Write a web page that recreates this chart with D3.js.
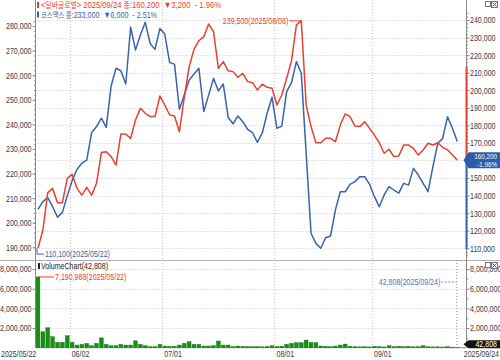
<!DOCTYPE html>
<html><head><meta charset="utf-8">
<script src="https://cdn.jsdelivr.net/npm/d3@7"></script>
<style>body{margin:0;background:#fff}svg{display:block;font-family:"Liberation Sans Narrow","Liberation Sans","Noto Sans CJK KR",sans-serif}text{white-space:pre}</style>
</head><body><svg id="c" width="500" height="360"></svg>
<script>
const dates = ["2025/05/22","2025/05/23","2025/05/26","2025/05/27","2025/05/28","2025/05/29","2025/05/30",
"2025/06/02","2025/06/04","2025/06/05","2025/06/09","2025/06/10","2025/06/11","2025/06/12","2025/06/13","2025/06/16","2025/06/17","2025/06/18","2025/06/19","2025/06/20","2025/06/23","2025/06/24","2025/06/25","2025/06/26","2025/06/27","2025/06/30",
"2025/07/01","2025/07/02","2025/07/03","2025/07/04","2025/07/07","2025/07/08","2025/07/09","2025/07/10","2025/07/11","2025/07/14","2025/07/15","2025/07/16","2025/07/17","2025/07/18","2025/07/21","2025/07/22","2025/07/23","2025/07/24","2025/07/25","2025/07/28","2025/07/29","2025/07/30","2025/07/31",
"2025/08/01","2025/08/04","2025/08/05","2025/08/06","2025/08/07","2025/08/08","2025/08/11","2025/08/12","2025/08/13","2025/08/14","2025/08/18","2025/08/19","2025/08/20","2025/08/21","2025/08/22","2025/08/25","2025/08/26","2025/08/27","2025/08/28","2025/08/29",
"2025/09/01","2025/09/02","2025/09/03","2025/09/04","2025/09/05","2025/09/08","2025/09/09","2025/09/10","2025/09/11","2025/09/12","2025/09/15","2025/09/16","2025/09/17","2025/09/18","2025/09/19","2025/09/22","2025/09/23","2025/09/24"];

// 달바글로벌 (right axis)
const dalbaClose = [110100,120400,141700,144100,136000,136000,149800,152100,144100,140300,144700,140300,147000,164500,165000,162200,157400,175100,175100,172600,183100,189700,186900,185000,185000,196700,
191600,185900,185300,176400,196000,213400,223300,228200,230500,237700,233400,212500,216300,211100,210600,207400,209600,204900,204300,200100,203500,201700,201100,
191600,197300,206800,216800,237200,239500,191600,179300,170100,170100,172600,172600,170700,180200,186500,185000,179600,179300,182100,178300,
174500,170100,164100,166400,162200,162600,168800,168800,166900,163100,166000,169800,168800,170100,167500,166000,163100,160200];

// 코스맥스 (left axis)
const cosmaxClose = [205400,208600,210200,206500,202200,204200,210900,217100,221700,224200,225500,236600,239100,242500,238800,255600,262800,261800,256400,279500,270200,276300,281500,272900,270500,279000,
276700,265100,264500,246100,251900,258000,260500,262800,245200,251900,258700,253600,256400,242900,240200,243400,241100,238000,236600,232700,236500,244500,251000,
238400,239300,253300,257000,265500,260800,228200,195700,191600,189600,193900,194600,205200,212600,212600,215600,216700,218700,218700,215700,
210600,206500,211300,214700,213300,212000,216000,215300,222100,219400,216000,212600,222800,232300,234300,243100,238400,233000];

const volume = [7190988,1620000,2030000,1110000,540000,550000,1220000,540000,270000,340000,440000,200000,440000,1000000,340000,200000,200000,340000,270000,270000,700000,340000,200000,100000,100000,340000,
170000,140000,140000,270000,440000,610000,340000,340000,170000,170000,200000,680000,270000,270000,100000,170000,140000,120000,100000,110000,90000,130000,200000,
120000,150000,340000,440000,500000,500000,780000,540000,500000,170000,140000,100000,170000,270000,370000,140000,100000,90000,100000,80000,
140000,100000,80000,200000,100000,150000,100000,140000,90000,100000,200000,100000,80000,90000,70000,100000,60000,42808];

const leftTicks = d3.range(190000, 280001, 10000);
const rightTicks = d3.range(110000, 240001, 10000);
const volTicks = [2000000, 4000000, 6000000, 8000000];
const monthStarts = ["2025/06/02","2025/07/01","2025/08/01","2025/09/01"];
const monthLabels = ["06/02","07/01","08/01","09/01"];
const legend1 = [["<", 0], ["달바글로벌", 1], ["> 2025/09/24 ", 0], ["종", 1], [":160,200  ▼3,200  - 1.96%", 0]];
const legend2 = [["코스맥스 ", 1], ["종", 1], [":233,000  ▼6,000  - 2.51%", 0]];

const RED = "#e8402f", BLUE = "#3b62ad", GRID = "#c8c8c8", AX = "#8a8a8a", TXT = "#3a3a3a";
const svg = d3.select("#c");
svg.append("rect").attr("width",500).attr("height",360).attr("fill","#fff");

const probe = svg.append("text").style("font-size","9px").text("280,000");
const K = Math.min(1.1, 25.5 / probe.node().getComputedTextLength());
probe.remove();
function squeeze(sel){
  sel.each(function(){
    const w = this.getComputedTextLength();
    if (w > 0) d3.select(this).attr("textLength", w*K).attr("lengthAdjust","spacingAndGlyphs");
  });
}

const x = d3.scalePoint().domain(dates).range([38, 457.3]);
const step = x.step();
const yL = d3.scaleLinear().domain([190000, 280000]).range([247.3, 26]);
const yR = d3.scaleLinear().domain([110000, 240000]).range([248.3, 20]);
const yV = d3.scaleLinear().domain([0, 8000000]).range([347.7, 269]);
const L = 35.5, R = 466.5, PT = 0, PB = 260, VT = 260, VB = 347.7;

const g = svg.append("g");
g.selectAll("line.hg").data(rightTicks).join("line")
  .attr("x1", L).attr("x2", R).attr("y1", d => Math.round(yR(d))+0.5).attr("y2", d => Math.round(yR(d))+0.5)
  .attr("stroke", GRID).attr("stroke-dasharray", "1,2");
g.selectAll("line.vg").data(monthStarts).join("line")
  .attr("x1", d => Math.round(x(d)-step/2)+0.5).attr("x2", d => Math.round(x(d)-step/2)+0.5)
  .attr("y1", PT).attr("y2", PB).attr("stroke", GRID).attr("stroke-dasharray", "1,2");
g.selectAll("line.hv").data(volTicks).join("line")
  .attr("x1", L).attr("x2", R).attr("y1", d => Math.round(yV(d))+0.5).attr("y2", d => Math.round(yV(d))+0.5)
  .attr("stroke", GRID).attr("stroke-dasharray", "1,2");
g.selectAll("line.vv").data(monthStarts).join("line")
  .attr("x1", d => Math.round(x(d)-step/2)+0.5).attr("x2", d => Math.round(x(d)-step/2)+0.5)
  .attr("y1", VT).attr("y2", VB).attr("stroke", GRID).attr("stroke-dasharray", "1,2");

svg.append("line").attr("x1", 0).attr("x2", 500).attr("y1", PB+0.5).attr("y2", PB+0.5).attr("stroke", "#b0b0b0");
svg.append("line").attr("x1", L).attr("x2", R).attr("y1", VB).attr("y2", VB).attr("stroke", AX);

svg.append("g").selectAll("rect").data(volume).join("rect")
  .attr("x", (d,i) => x(dates[i]) - 1.9).attr("width", 3.8)
  .attr("y", d => yV(d)).attr("height", d => VB - yV(d))
  .attr("fill", "#139113").attr("stroke", "#0b6e0b").attr("stroke-width", 0.4);

svg.append("line").attr("x1", x(dates[86])-0.5).attr("x2", x(dates[86])-0.5).attr("y1", VT).attr("y2", VB)
  .attr("stroke", "#6a8fc8").attr("stroke-dasharray", "1,2");

const lineR = d3.line().x((d,i) => x(dates[i])).y(d => yR(d));
const lineL = d3.line().x((d,i) => x(dates[i])).y(d => yL(d));
svg.append("path").attr("d", lineL(cosmaxClose)).attr("fill","none").attr("stroke", BLUE).attr("stroke-width", 1.5).attr("stroke-linejoin","round");
svg.append("path").attr("d", lineR(dalbaClose)).attr("fill","none").attr("stroke", RED).attr("stroke-width", 1.5).attr("stroke-linejoin","round");

function styleAxis(sel){
  sel.attr("font-family", null);
  sel.selectAll(".tick line").attr("stroke", AX);
  sel.selectAll(".tick text").attr("fill", TXT).style("font-size","9px").call(squeeze);
}
const fmt = d3.format(",");
function minor(axisFn, scale, vals, tx){
  svg.append("g").attr("transform", `translate(${tx},0)`)
    .call(axisFn(scale).tickValues(vals).tickFormat("").tickSize(1.5))
    .call(s => { s.select(".domain").remove(); s.selectAll("line").attr("stroke", AX); });
}
const aL = svg.append("g").attr("transform", `translate(${L},0)`)
  .call(d3.axisLeft(yL).tickValues(leftTicks).tickFormat(fmt).tickSize(3).tickPadding(1));
aL.select(".domain").remove(); styleAxis(aL);
minor(d3.axisLeft, yL, d3.range(190000,282001,2000), L);
const aR = svg.append("g").attr("transform", `translate(${R},0)`)
  .call(d3.axisRight(yR).tickValues(rightTicks).tickFormat(fmt).tickSize(3).tickPadding(0.5));
aR.select(".domain").remove(); styleAxis(aR);
minor(d3.axisRight, yR, d3.range(106000,244001,2000), R);
const aVL = svg.append("g").attr("transform", `translate(${L},0)`)
  .call(d3.axisLeft(yV).tickValues(volTicks).tickFormat(fmt).tickSize(3).tickPadding(1));
aVL.select(".domain").remove(); styleAxis(aVL);
const aVR = svg.append("g").attr("transform", `translate(${R},0)`)
  .call(d3.axisRight(yV).tickValues(volTicks).tickFormat(fmt).tickSize(3).tickPadding(0.5));
aVR.select(".domain").remove(); styleAxis(aVR);
minor(d3.axisRight, yV, d3.range(1000000,8000001,2000000), R);

svg.append("line").attr("x1", L).attr("x2", L).attr("y1", 0).attr("y2", VB).attr("stroke", AX);
svg.append("line").attr("x1", R).attr("x2", R).attr("y1", 0).attr("y2", VB).attr("stroke", AX);
svg.append("line").attr("x1", R).attr("x2", R).attr("y1", yR(213400)).attr("y2", yR(160200)).attr("stroke", RED).attr("stroke-width", 2);
svg.append("line").attr("x1", R).attr("x2", R).attr("y1", yR(160200)).attr("y2", yR(109500)).attr("stroke", BLUE).attr("stroke-width", 2);

const xa = svg.append("g").style("font-size","9px").attr("fill", TXT);
xa.selectAll("text.m").data(monthStarts).join("text")
  .attr("x", d => x(d) - step/2 + 2).attr("y", 357).text((d,i) => monthLabels[i]);
xa.append("text").attr("x", 1).attr("y", 357).text(dates[0]);
xa.append("text").attr("x", 499).attr("y", 357).attr("text-anchor","end").text(dates[86]);
xa.selectAll("text").call(squeeze);

function legend(parts, y, color, width){
  const t = svg.append("text").attr("x", 41).attr("y", y).attr("fill", color).style("font-size","9px");
  parts.forEach(([s, ko]) => t.append("tspan").style("font-size", ko ? "8px" : "9px")
     .style("font-family", ko ? '"Noto Sans CJK KR",sans-serif' : null).text(s));
  t.attr("textLength", width).attr("lengthAdjust","spacingAndGlyphs");
}
svg.append("rect").attr("x", 37).attr("y", 2).attr("width", 2).attr("height", 6).attr("fill", RED);
legend(legend1, 8, RED, 180);
svg.append("rect").attr("x", 37).attr("y", 11.5).attr("width", 2).attr("height", 6).attr("fill", BLUE);
legend(legend2, 17.5, BLUE, 116);
svg.append("rect").attr("x", 38).attr("y", 263).attr("width", 2).attr("height", 6).attr("fill", "#222");
svg.append("text").attr("x", 41).attr("y", 269).attr("fill", "#222").style("font-size","9px")
  .text("VolumeChart(" + fmt(volume[86]) + ")").call(squeeze);

const iMax = d3.maxIndex(dalbaClose), iMin = d3.minIndex(dalbaClose);
const px = x(dates[iMax]), py = yR(dalbaClose[iMax]);
svg.append("line").attr("x1", px-12).attr("x2", px).attr("y1", py).attr("y2", py).attr("stroke", RED);
svg.append("text").attr("x", px-13).attr("y", py+3).attr("text-anchor","end").attr("fill", RED).style("font-size","9px")
  .text(fmt(dalbaClose[iMax]) + "(" + dates[iMax] + ")").call(squeeze);
const mx = x(dates[iMin]), my = yR(dalbaClose[iMin]);
svg.append("path").attr("d", `M${mx-1},${my}V${my+6}H${mx+6}`).attr("fill","none").attr("stroke", BLUE);
svg.append("text").attr("x", mx+7).attr("y", my+9).attr("fill", BLUE).style("font-size","9px")
  .text(fmt(dalbaClose[iMin]) + "(" + dates[iMin] + ")").call(squeeze);
const vx = x(dates[0]), vy = yV(volume[0]);
svg.append("line").attr("x1", vx).attr("x2", vx+16).attr("y1", vy).attr("y2", vy).attr("stroke", RED);
svg.append("text").attr("x", vx+17).attr("y", vy+3).attr("fill", RED).style("font-size","9px")
  .text(fmt(volume[0]) + "(" + dates[0] + ")").call(squeeze);
const lx = x(dates[86]);
svg.append("line").attr("x1", lx-16).attr("x2", lx-1).attr("y1", 282).attr("y2", 282).attr("stroke", "#6a8fc8").attr("stroke-dasharray","2,1.5");
svg.append("text").attr("x", lx-17).attr("y", 285).attr("text-anchor","end").attr("fill", "#4d72b8").style("font-size","9px")
  .text(fmt(volume[86]) + "(" + dates[86] + ")").call(squeeze);

function badge(cy, h, fill, lines){
  const x0 = R - 3;
  svg.append("path").attr("d", `M${x0},${cy}L${x0+5},${cy-h/2}H500V${cy+h/2}H${x0+5}Z`).attr("fill", fill);
  lines.forEach((t, k) => svg.append("text").attr("x", 497).attr("y", cy - h/2 + 7 + k*7.5).attr("text-anchor","end")
    .attr("fill","#fff").style("font-size", lines.length > 1 ? "8px" : "9px").text(t).call(squeeze));
}
badge(yR(dalbaClose[86]), 16, "#2d5ca8", [fmt(dalbaClose[86]), "-1.96%"]);
badge(344.2, 8, "#111", [fmt(volume[86])]);

function icons(y0){
  svg.append("rect").attr("x", 485.5).attr("y", y0+0.5).attr("width", 5).attr("height", 5).attr("fill","#fff").attr("stroke","#777");
  svg.append("rect").attr("x", 491.5).attr("y", y0+0.5).attr("width", 6).attr("height", 6).attr("fill","#fff").attr("stroke","#777");
  svg.append("path").attr("d", `M${492.5},${y0+1.5}l4,4m0,-4l-4,4`).attr("stroke","#555");
}
icons(1);
icons(262);
</script></body></html>
